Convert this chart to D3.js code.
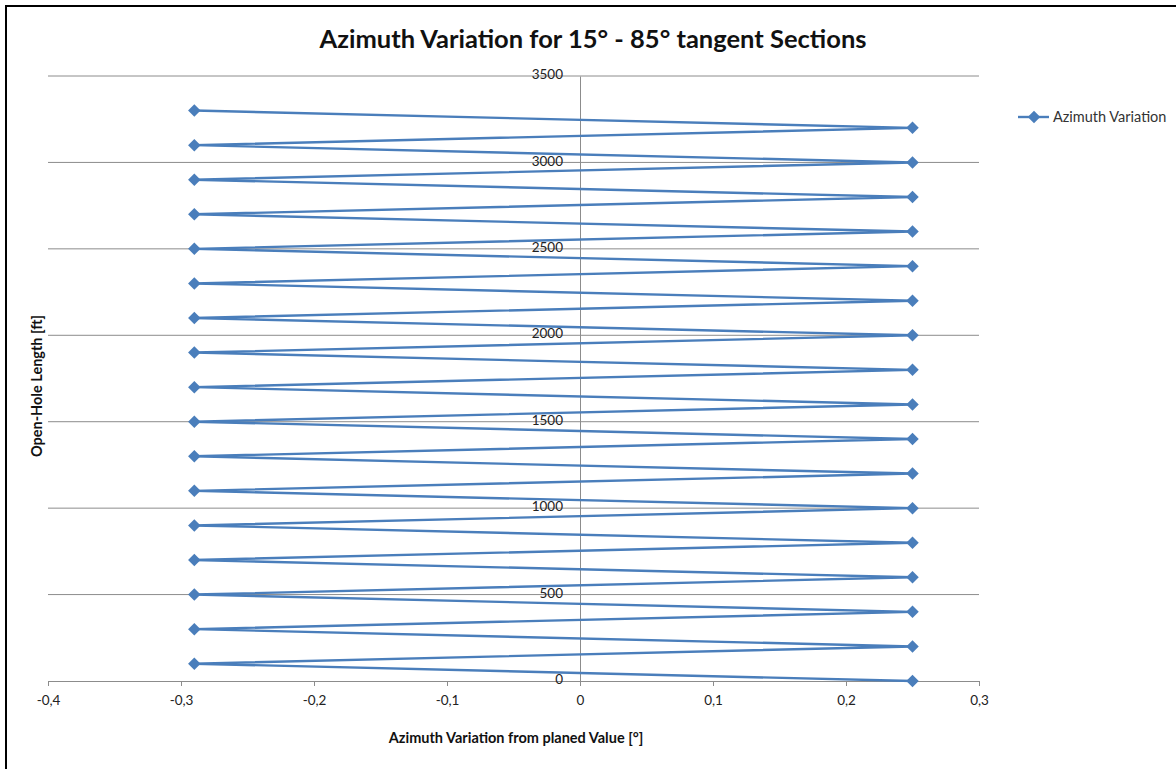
<!DOCTYPE html>
<html>
<head>
<meta charset="utf-8">
<script src="https://cdn.jsdelivr.net/npm/d3@7"></script>
<style>
  body { margin: 0; background: #fff; }
  text { font-family: Lato, "Open Sans", sans-serif; }
</style>
</head>
<body>
<div id="chart"></div>
<script>
// zigzag data
const lengths = [0, 100, 200, 300, 400, 500, 600, 700, 800, 900, 1000, 1100, 1200, 1300, 1400, 1500, 1600,
  1700, 1800, 1900, 2000, 2100, 2200, 2300, 2400, 2500, 2600, 2700, 2800, 2900, 3000, 3100, 3200, 3300]
const variation = [0.25, -0.29, 0.25, -0.29, 0.25, -0.29, 0.25, -0.29, 0.25, -0.29, 0.25, -0.29, 0.25, -0.29,
  0.25, -0.29, 0.25, -0.29, 0.25, -0.29, 0.25, -0.29, 0.25, -0.29, 0.25, -0.29, 0.25, -0.29, 0.25, -0.29,
  0.25, -0.29, 0.25, -0.29]
const xTicks = [-0.4, -0.3, -0.2, -0.1, 0, 0.1, 0.2, 0.3]
const xTickLabels = ["-0,4", "-0,3", "-0,2", "-0,1", "0", "0,1", "0,2", "0,3"]
const yTicks = [0, 500, 1000, 1500, 2000, 2500, 3000, 3500]
const seriesName = "Azimuth Variation"

const width = 1176, height = 769
const blue = "#4a7ebb"

let svg = d3.select("#chart")
  .append("svg")
  .attr("width", width)
  .attr("height", height)

// outer frame
svg.append("rect")
  .attr("x", 6).attr("y", 6)
  .attr("width", width + 10).attr("height", height + 10)
  .attr("fill", "none")
  .attr("stroke", "#000")
  .attr("stroke-width", 2)

let x = d3.scaleLinear().domain([-0.4, 0.3]).range([48, 979])
let y = d3.scaleLinear().domain([0, 3500]).range([681, 76])

// gridlines
svg.append("g")
  .selectAll("line")
  .data(yTicks.filter(d => d > 0))
  .enter()
  .append("line")
  .attr("x1", x(-0.4)).attr("x2", x(0.3))
  .attr("y1", d => y(d)).attr("y2", d => y(d))
  .attr("stroke", "#8c8c8c")
  .attr("stroke-width", 1)

// x axis along y = 0
let xAxis = svg.append("g")
  .attr("transform", "translate(0," + y(0) + ")")
  .call(d3.axisBottom(x).tickValues(xTicks).tickSize(5).tickPadding(9)
    .tickFormat((d, i) => xTickLabels[i]))
xAxis.select(".domain").attr("stroke", "#8c8c8c")
xAxis.selectAll(".tick line").attr("stroke", "#8c8c8c")
xAxis.selectAll(".tick text").attr("font-size", 13.5).attr("fill", "#222")

// y axis along x = 0
let yAxis = svg.append("g")
  .attr("transform", "translate(" + x(0) + ",0)")
  .call(d3.axisLeft(y).tickValues(yTicks).tickSize(0).tickPadding(17).tickFormat(d3.format("d")))
yAxis.select(".domain").attr("stroke", "#8c8c8c")
yAxis.selectAll(".tick text").attr("font-size", 13.5).attr("fill", "#222").attr("dy", "0.2em")

// series
let pts = lengths.map((l, i) => [variation[i], l])
let line = d3.line().x(d => x(d[0])).y(d => y(d[1]))

svg.append("path")
  .datum(pts)
  .attr("d", line)
  .attr("fill", "none")
  .attr("stroke", blue)
  .attr("stroke-width", 2.4)
  .attr("stroke-linejoin", "round")

let diamond = d3.symbol().type(d3.symbolDiamond2).size(100)
svg.append("g")
  .selectAll("path")
  .data(pts)
  .enter()
  .append("path")
  .attr("d", diamond)
  .attr("transform", d => "translate(" + x(d[0]) + "," + y(d[1]) + ")")
  .attr("fill", blue)

// titles
svg.append("text")
  .attr("x", 593).attr("y", 48)
  .attr("text-anchor", "middle")
  .attr("font-size", 25.5)
  .attr("font-weight", "bold")
  .attr("fill", "#111")
  .text("Azimuth Variation for 15° - 85° tangent Sections")

svg.append("text")
  .attr("x", 516).attr("y", 743)
  .attr("text-anchor", "middle")
  .attr("font-size", 14.5)
  .attr("font-weight", "bold")
  .attr("fill", "#111")
  .text("Azimuth Variation from planed Value [°]")

svg.append("text")
  .attr("transform", "translate(42,386) rotate(-90)")
  .attr("text-anchor", "middle")
  .attr("font-size", 14.5)
  .attr("font-weight", "bold")
  .attr("fill", "#111")
  .text("Open-Hole Length [ft]")

// legend
let lg = svg.append("g").attr("transform", "translate(1018,117)")
lg.append("line").attr("x1", 0).attr("x2", 31).attr("stroke", blue).attr("stroke-width", 2.4)
lg.append("path").attr("d", diamond).attr("transform", "translate(16,0)").attr("fill", blue)
lg.append("text")
  .attr("x", 35).attr("y", 5)
  .attr("font-size", 14.5)
  .attr("fill", "#333")
  .text(seriesName)
</script>
</body>
</html>
